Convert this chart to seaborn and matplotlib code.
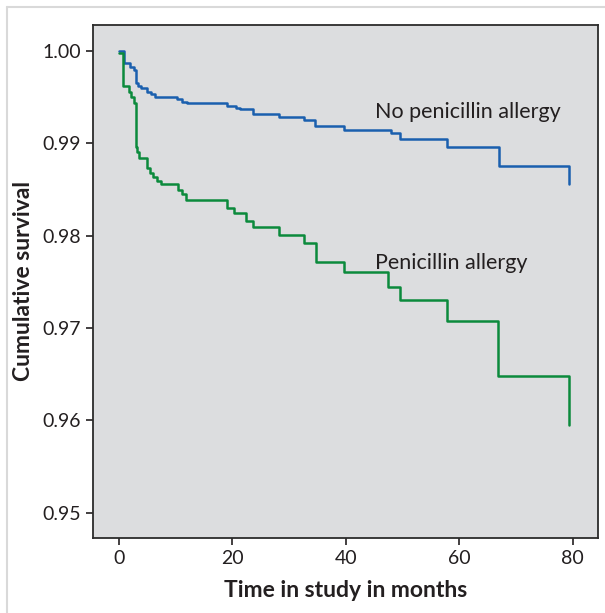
import matplotlib
matplotlib.use("Agg")
import matplotlib.pyplot as plt
from matplotlib.lines import Line2D
import pandas as pd
import seaborn as sns

# Kaplan-Meier steps (months, cumulative survival)
time_no_allergy = [0, 0.94, 2.0, 2.6, 2.94, 3.4, 3.9, 5.0, 5.7, 6.35, 10.3, 11.2,
                   12.05, 19.0, 20.6, 21.3, 23.6, 28.2, 32.7, 34.6, 39.7, 48.0,
                   49.6, 57.8, 67.0, 79.4]
surv_no_allergy = [1.0000, 0.99873, 0.99830, 0.99794, 0.99650, 0.99620, 0.99596,
                   0.99553, 0.99530, 0.99505, 0.99475, 0.99445, 0.99433, 0.99404,
                   0.99385, 0.99372, 0.99317, 0.99281, 0.99252, 0.99192, 0.99144,
                   0.99108, 0.99046, 0.98963, 0.98754, 0.98559]

time_allergy = [0, 0.8, 1.82, 2.2, 2.6, 2.94, 3.2, 3.53, 4.88, 5.5, 6.1, 6.7, 7.35,
                10.46, 11.05, 11.8, 19.0, 20.3, 22.5, 23.6, 28.2, 32.7, 34.7, 39.7,
                47.5, 49.6, 57.8, 66.9, 79.4]
surv_allergy = [0.99975, 0.99621, 0.99560, 0.99500, 0.99440, 0.98963, 0.98900,
                0.98837, 0.98729, 0.98680, 0.98630, 0.98590, 0.98559, 0.98494,
                0.98447, 0.98386, 0.98302, 0.98248, 0.98161, 0.98090, 0.98007,
                0.97916, 0.97714, 0.97605, 0.97446, 0.97302, 0.97078, 0.96479,
                0.95948]

group_names = ["No penicillin allergy", "Penicillin allergy"]
x_ticks = [0, 20, 40, 60, 80]
y_ticks = [0.95, 0.96, 0.97, 0.98, 0.99, 1.00]

df = pd.concat([
    pd.DataFrame({"time": time_no_allergy, "surv": surv_no_allergy, "group": group_names[0]}),
    pd.DataFrame({"time": time_allergy, "surv": surv_allergy, "group": group_names[1]}),
])

sns.set_style("ticks", {"axes.facecolor": "#dcdddf", "axes.edgecolor": "#2b2b2b"})
plt.rcParams["font.family"] = ["Lato", "DejaVu Sans"]

fig = plt.figure(figsize=(6.05, 6.13), dpi=100)
ax = fig.add_axes([0.1542, 0.1228, 0.8337, 0.8364])

palette = {group_names[0]: "#1a5fae", group_names[1]: "#0b8a3c"}
sns.lineplot(data=df, x="time", y="surv", hue="group", palette=palette,
             estimator=None, drawstyle="steps-post", linewidth=1.8,
             legend=False, ax=ax)

ax.set_xlim(-4.5, 84.4)
ax.set_ylim(0.9473, 1.0028)
ax.set_xticks(x_ticks)
ax.set_yticks(y_ticks)
ax.set_yticklabels([f"{v:.2f}" for v in y_ticks])
ax.tick_params(labelsize=14, colors="#231f20", length=5, width=1.2, pad=4)
for s in ax.spines.values():
    s.set_linewidth(1.3)

ax.set_xlabel("Time in study in months", fontsize=16.5, fontweight="bold", color="#231f20")
ax.set_ylabel("Cumulative survival", fontsize=16.5, fontweight="bold", color="#231f20")
ax.xaxis.set_label_coords(0.5, -0.082)
ax.yaxis.set_label_coords(-0.118, 0.5)

ax.text(45.1, 0.99339, group_names[0], fontsize=15.5, color="#231f20", va="center")
ax.text(45.1, 0.97703, group_names[1], fontsize=15.5, color="#231f20", va="center")

# light frame around the figure (left and top only)
fig.add_artist(Line2D([7 / 605, 7 / 605], [0, 1 - 7 / 613], color="#d9d9d9", lw=1.5))
fig.add_artist(Line2D([7 / 605, 1], [1 - 7 / 613, 1 - 7 / 613], color="#d9d9d9", lw=1.5))

fig.savefig("out.png", dpi=100)
